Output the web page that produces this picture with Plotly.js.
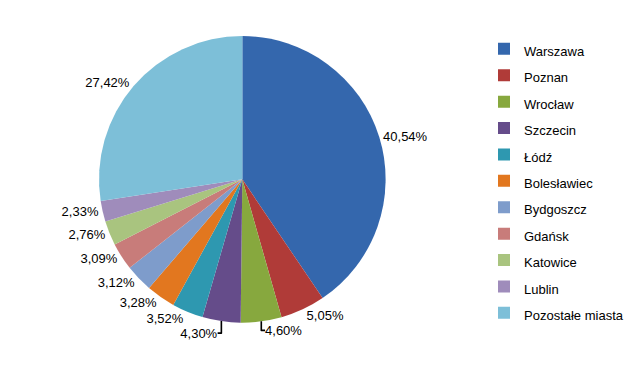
<!DOCTYPE html>
<html>
<head>
<meta charset="utf-8">
<script src="https://cdn.plot.ly/plotly-3.0.1.min.js"></script>
<style>html,body{margin:0;padding:0;background:#fff;}#chart{width:629px;height:366px;}</style>
</head>
<body>
<div id="chart"></div>
<script>
const cities = ["Warszawa","Poznan","Wrocław","Szczecin","Łódź","Bolesławiec","Bydgoszcz","Gdańsk","Katowice","Lublin","Pozostałe miasta"];
const shares = [40.54,5.05,4.60,4.30,3.52,3.28,3.12,3.09,2.76,2.33,27.42];
const sliceColors = ["#3467AD","#B03B38","#87A83E","#654C8A","#2E98B0","#E2771F","#7E9CCB","#C87C7A","#A9C47F","#9F8CBB","#7DBFD8"];

const legendLabels = cities.map(c => '<span style="font-size:13px">' + c + '</span>');

const trace = {
  type: 'pie',
  labels: legendLabels,
  values: shares,
  sort: false,
  direction: 'clockwise',
  rotation: 0,
  marker: {colors: sliceColors, line: {width: 0}},
  textposition: 'outside',
  texttemplate: '%{value:.2f}%',
  textfont: {family: 'Liberation Sans, Arial, sans-serif', size: 13, color: '#000'},
  hoverinfo: 'label+value',
  domain: {x: [0.161, 0.627], y: [0.105, 0.915]},
  automargin: false
};

const layout = {
  width: 629, height: 366,
  margin: {l: 0, r: 0, t: 0, b: 0},
  separators: ',.',
  paper_bgcolor: '#fff',
  showlegend: true,
  legend: {
    x: 0.787, xanchor: 'left', y: 0.505, yanchor: 'middle',
    font: {family: 'Liberation Sans, Arial, sans-serif', size: 18, color: '#000'},
    itemwidth: 30
  },
  font: {family: 'Liberation Sans, Arial, sans-serif'}
};

Plotly.newPlot('chart', [trace], layout, {displayModeBar: false, staticPlot: true});
</script>
</body>
</html>
